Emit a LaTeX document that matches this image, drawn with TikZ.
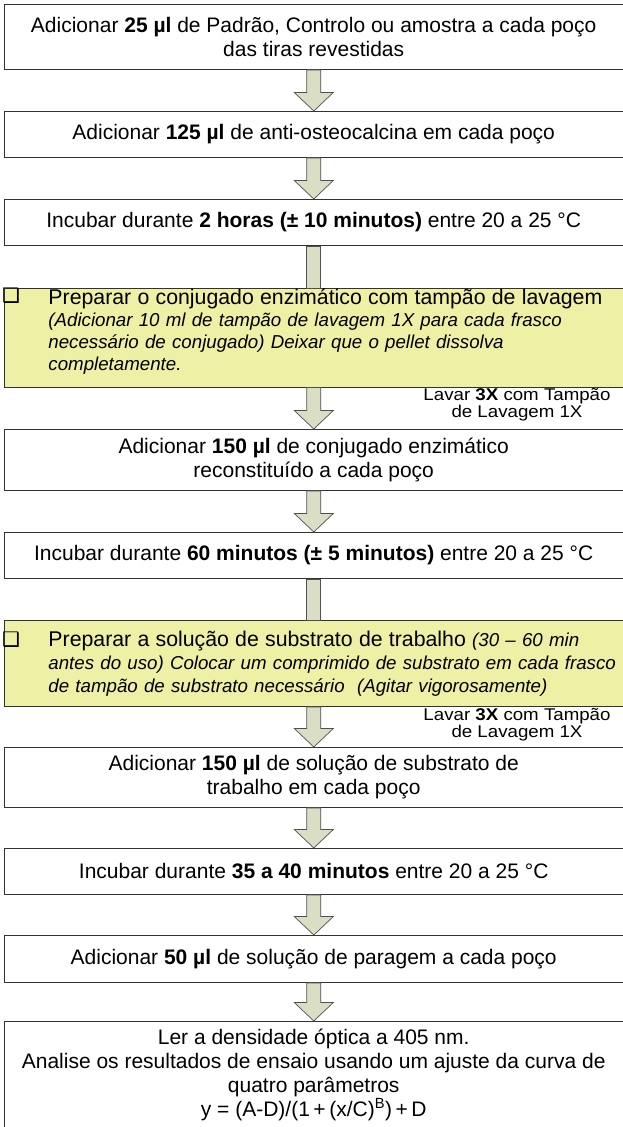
\documentclass[tikz,border=0pt]{standalone}
\usepackage{graphicx}
\usepackage{fontspec}
\setmainfont{Liberation Sans}
\newfontfamily\dejavu{DejaVu Sans}
\usetikzlibrary{calc}
\definecolor{arrowfill}{RGB}{217,222,197}
\definecolor{notefill}{RGB}{238,240,166}
\definecolor{edge}{RGB}{50,50,50}
\definecolor{arrowedge}{RGB}{80,80,80}
\newcommand\flowarrow[2]{%
  \path[flow] ($(#1.south -| ax)+(-7,0)$) -- ($(#2.north -| ax)+(-7,18.5)$)
    -- ($(#2.north -| ax)+(-19.5,18.5)$) -- (#2.north -| ax)
    -- ($(#2.north -| ax)+(19.5,18.5)$) -- ($(#2.north -| ax)+(7,18.5)$)
    -- ($(#1.south -| ax)+(7,0)$) -- cycle;}
\newcommand\flowshaft[2]{%
  \path[flow] ($(#1.south -| ax)+(-7,0)$) rectangle ($(#2.north -| ax)+(7,0)$);}
\begin{document}
\begin{tikzpicture}[x=1pt,y=1pt,
  stepbox/.style={draw=edge, line width=0.9pt, fill=white, anchor=north west,
    minimum width=619.5pt, align=center, inner sep=0pt,
    font=\fontsize{21}{24}\selectfont},
  notebox/.style={draw=edge, line width=0.9pt, fill=notefill, anchor=north west,
    text width=570pt, align=left, inner xsep=44.5pt, inner ysep=0pt},
  washnote/.style={align=center, inner sep=0pt, font=\fontsize{17}{14.5}\selectfont},
  checkbox/.style={inner sep=0pt, font=\dejavu\fontsize{20}{20}\selectfont},
  flow/.style={draw=arrowedge, line width=0.7pt, fill=arrowfill, line join=miter},
]
\useasboundingbox (0,0) rectangle (622,-1127);
\fill[white] (0,0) rectangle (622,-1127);
\coordinate (ax) at (313.8,0);

\node[stepbox, minimum height=65pt] (b1) at (3.5,-4)
  {Adicionar \textbf{25 µl} de Padrão, Controlo ou amostra a cada poço\\das tiras revestidas};
\node[stepbox, minimum height=46pt] (b2) at (3.5,-111)
  {Adicionar \textbf{125 µl} de anti-osteocalcina em cada poço};
\node[stepbox, minimum height=46pt] (b3) at (3.5,-199)
  {Incubar durante \textbf{2 horas (± 10 minutos)} entre 20 a 25 °C};
\node[notebox, minimum height=98pt, font=\fontsize{18.7}{22}\itshape\selectfont] (y1) at (3.5,-288)
  {{\upshape\fontsize{21.3}{22}\selectfont Preparar o conjugado enzimático com tampão de lavagem}\\
   (Adicionar 10 ml de tampão de lavagem 1X para cada frasco\\
   necessário de conjugado) Deixar que o pellet dissolva\\
   completamente.\rule[-17pt]{0pt}{17pt}};
\node[checkbox] (c1) at (11,-296) {❑};
\node[washnote] (w1) at (517,-405)
  {\scalebox{1.1}[1]{Lavar \textbf{3X} com Tampão}\\\scalebox{1.1}[1]{de Lavagem 1X}};
\node[stepbox, minimum height=61pt] (b4) at (3.5,-429)
  {Adicionar \textbf{150 µl} de conjugado enzimático\\reconstituído a cada poço};
\node[stepbox, minimum height=46pt] (b5) at (3.5,-532)
  {Incubar durante \textbf{60 minutos (± 5 minutos)} entre 20 a 25 °C};
\node[notebox, minimum height=86pt, font=\fontsize{18.7}{23}\itshape\selectfont] (y2) at (3.5,-620)
  {{\upshape\fontsize{21.3}{23}\selectfont Preparar a solução de substrato de trabalho} (30 – 60 min\\
   antes do uso) Colocar um comprimido de substrato em cada frasco\\
   de tampão de substrato necessário\ \ (Agitar vigorosamente)};
\node[checkbox] (c2) at (11,-640) {❑};
\node[washnote] (w2) at (517,-725)
  {\scalebox{1.1}[1]{Lavar \textbf{3X} com Tampão}\\\scalebox{1.1}[1]{de Lavagem 1X}};
\node[stepbox, minimum height=60pt] (b6) at (3.5,-747)
  {Adicionar \textbf{150 µl} de solução de substrato de\\trabalho em cada poço};
\node[stepbox, minimum height=46pt] (b7) at (3.5,-848)
  {Incubar durante \textbf{35 a 40 minutos} entre 20 a 25 °C};
\node[stepbox, minimum height=47pt] (b8) at (3.5,-935)
  {Adicionar \textbf{50 µl} de solução de paragem a cada poço};
\node[stepbox, minimum height=124pt] (b9) at (3.5,-1021)
  {Ler a densidade óptica a 405 nm.\\
   Analise os resultados de ensaio usando um ajuste da curva de\\
   quatro parâmetros\\
   y = (A-D)/(1\,+\,(x/C)\textsuperscript{B})\,+\,D\rule[-22pt]{0pt}{22pt}};

\flowarrow{b1}{b2}
\flowarrow{b2}{b3}
\flowshaft{b3}{y1}
\flowarrow{y1}{b4}
\flowarrow{b4}{b5}
\flowshaft{b5}{y2}
\flowarrow{y2}{b6}
\flowarrow{b6}{b7}
\flowarrow{b7}{b8}
\flowarrow{b8}{b9}
\end{tikzpicture}
\end{document}
